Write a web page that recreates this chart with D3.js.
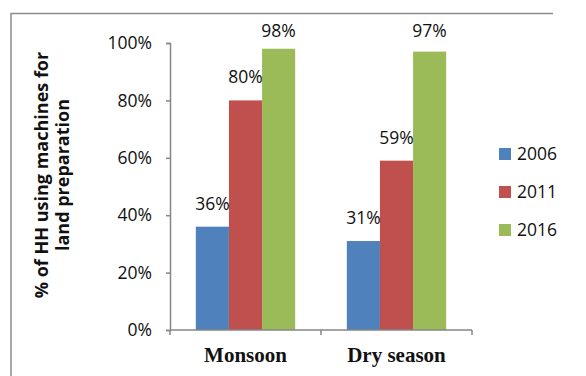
<!DOCTYPE html>
<html>
<head>
<meta charset="utf-8">
<script src="https://cdn.jsdelivr.net/npm/d3@7"></script>
<style>
  html, body { margin: 0; padding: 0; background: #fff; }
  svg { display: block; }
</style>
</head>
<body>
<svg id="chart" width="586" height="376"></svg>
<script>
// Share of households using machines for land preparation, by season and survey year
const seasons = ["Monsoon", "Dry season"];
const years = ["2006", "2011", "2016"];
const values2006 = [36, 31];
const values2011 = [80, 59];
const values2016 = [98, 97];
const yTicks = [0, 20, 40, 60, 80, 100];
const colors = ["#4F81BD", "#C0504D", "#9BBB59"];

const seriesValues = [values2006, values2011, values2016];

const svg = d3.select("#chart");
const sansFont = "'Open Sans', 'Noto Sans', sans-serif";

// Chart frame (top and left edges)
svg.append("path")
  .attr("d", "M11,376 V13.5 H553")
  .attr("fill", "none")
  .attr("stroke", "#8c8c8c")
  .attr("stroke-width", 1.5);

const plot = { left: 170, right: 472, top: 43, bottom: 330 };

const x0 = d3.scaleBand().domain(seasons).range([plot.left, plot.right]).paddingInner(0).paddingOuter(0);
const x1 = d3.scaleBand().domain(years).range([0, x0.bandwidth()]).paddingInner(0).paddingOuter(0.78);
const y = d3.scaleLinear().domain([0, 100]).range([plot.bottom, plot.top]);

// Bars
const groups = svg.append("g").selectAll("g")
  .data(seasons)
  .join("g")
  .attr("transform", s => `translate(${x0(s)},0)`);

groups.selectAll("rect")
  .data((s, i) => years.map((yr, j) => ({ yr, j, v: seriesValues[j][i] })))
  .join("rect")
  .attr("x", d => x1(d.yr))
  .attr("width", x1.bandwidth())
  .attr("y", d => y(d.v))
  .attr("height", d => y(0) - y(d.v))
  .attr("fill", d => colors[d.j]);

// Value labels above each bar
groups.selectAll("text")
  .data((s, i) => years.map((yr, j) => ({ yr, j, v: seriesValues[j][i] })))
  .join("text")
  .attr("x", d => x1(d.yr) + x1.bandwidth() / 2)
  .attr("y", d => Math.max(y(d.v) - 17, 37))
  .attr("text-anchor", "middle")
  .attr("font-family", sansFont)
  .attr("font-size", 17.5)
  .attr("fill", "#111")
  .text(d => d.v + "%");

// Y axis
const yAxis = d3.axisLeft(y)
  .tickValues(yTicks)
  .tickFormat(d => d + "%")
  .tickSize(4)
  .tickPadding(14);

const yg = svg.append("g")
  .attr("transform", `translate(${plot.left},0)`)
  .call(yAxis);
yg.select(".domain").attr("stroke", "#868686").attr("stroke-width", 1.5);
yg.selectAll(".tick line").attr("stroke", "#868686").attr("stroke-width", 1.5);
yg.selectAll(".tick text")
  .attr("font-family", sansFont)
  .attr("font-size", 17.5)
  .attr("fill", "#111");

// X axis baseline with category divider ticks
const xg = svg.append("g");
xg.append("line")
  .attr("x1", plot.left).attr("x2", plot.right)
  .attr("y1", plot.bottom).attr("y2", plot.bottom)
  .attr("stroke", "#868686").attr("stroke-width", 1.5);
const dividers = seasons.map(s => x0(s)).concat([x0(seasons[seasons.length - 1]) + x0.bandwidth()]);
xg.selectAll("line.div")
  .data(dividers)
  .join("line")
  .attr("class", "div")
  .attr("x1", d => d).attr("x2", d => d)
  .attr("y1", plot.bottom).attr("y2", plot.bottom + 5)
  .attr("stroke", "#868686").attr("stroke-width", 1.5);

xg.selectAll("text")
  .data(seasons)
  .join("text")
  .attr("x", s => x0(s) + x0.bandwidth() / 2)
  .attr("y", 362)
  .attr("text-anchor", "middle")
  .attr("font-family", "'Liberation Serif', 'DejaVu Serif', serif")
  .attr("font-weight", "bold")
  .attr("font-size", 21)
  .attr("fill", "#111")
  .text(s => s);

// Y axis title (two lines)
const title = svg.append("text")
  .attr("transform", "translate(48,175) rotate(-90)")
  .attr("text-anchor", "middle")
  .attr("font-family", sansFont)
  .attr("font-weight", "bold")
  .attr("font-size", 18)
  .attr("fill", "#111");
title.append("tspan").attr("x", 0).attr("dy", 0).text("% of HH using machines for");
title.append("tspan").attr("x", 0).attr("dy", 21).text("land preparation");

// Legend
const legend = svg.append("g").selectAll("g")
  .data(years)
  .join("g")
  .attr("transform", (d, i) => `translate(499,${154 + i * 38})`);
legend.append("rect")
  .attr("x", 0).attr("y", -6)
  .attr("width", 12).attr("height", 12)
  .attr("fill", (d, i) => colors[i]);
legend.append("text")
  .attr("x", 18)
  .attr("y", 0)
  .attr("dy", "0.35em")
  .attr("font-family", sansFont)
  .attr("font-size", 17.5)
  .attr("fill", "#111")
  .text(d => d);
</script>
</body>
</html>
